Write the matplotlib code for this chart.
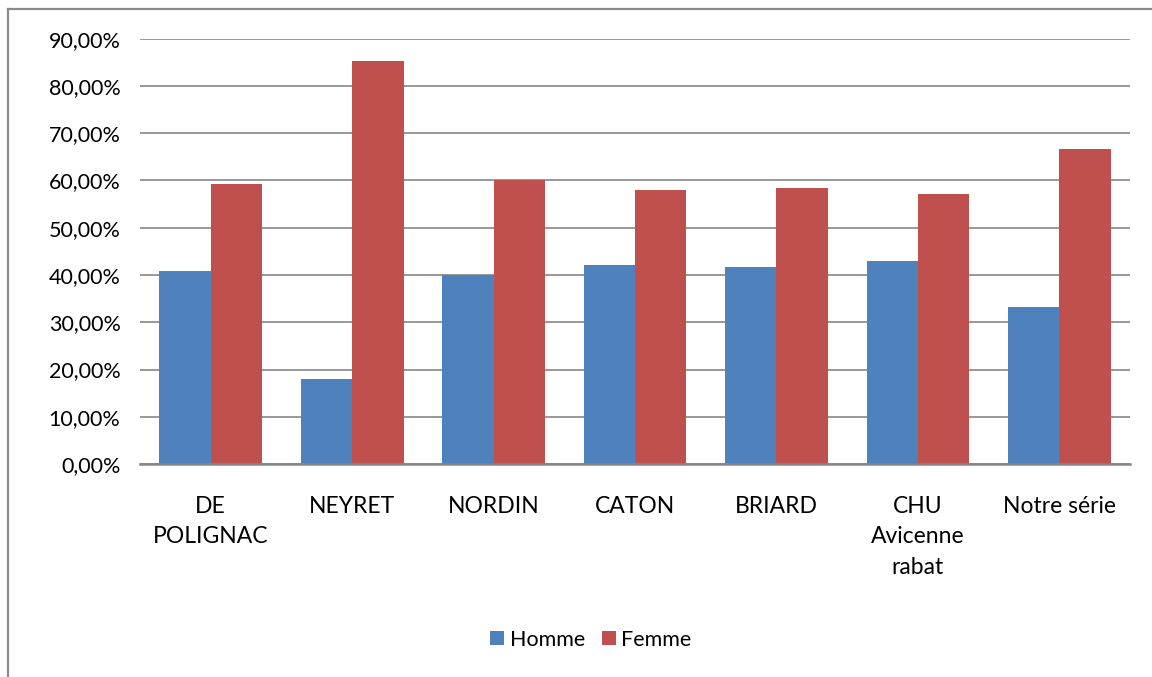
import matplotlib
matplotlib.use("Agg")
import matplotlib.pyplot as plt
from matplotlib.lines import Line2D
import numpy as np

plt.rcParams['font.family'] = ['Lato', 'DejaVu Sans']

# Data
categories = ["DE\nPOLIGNAC", "NEYRET", "NORDIN", "CATON", "BRIARD",
              "CHU\nAvicenne\nrabat", "Notre série"]
homme = [0.408, 0.1805, 0.400, 0.422, 0.416, 0.4295, 0.3333]
femme = [0.592, 0.852, 0.600, 0.579, 0.584, 0.571, 0.6667]
series_names = ["Homme", "Femme"]
yticks = np.arange(0, 0.91, 0.1)

blue = "#4F81BD"
red = "#C0504D"
grid_col = "#868686"

fig = plt.figure(figsize=(11.52, 6.77), dpi=100)
ax = fig.add_axes([0.1215, 0.3146, 0.981 - 0.1215, 0.9428 - 0.3146])

x = np.arange(len(categories))
w = 1 / 2.75  # gap width 75%
ax.bar(x - w / 2, homme, w, color=blue, label=series_names[0], zorder=3)
ax.bar(x + w / 2, femme, w, color=red, label=series_names[1], zorder=3)

ax.set_xlim(-0.5, len(categories) - 0.5)
ax.set_ylim(0, 0.9)
ax.set_yticks(yticks)
ax.set_yticklabels([f"{v * 100:.2f}%".replace(".", ",") for v in yticks])
ax.yaxis.grid(True, color=grid_col, linewidth=1.2, zorder=0)
ax.set_xticks(x)
ax.set_xticklabels(categories, linespacing=1.55, va="top")
ax.tick_params(axis="both", length=0, colors="black")
ax.tick_params(axis="y", labelsize=15.5, pad=14)
ax.tick_params(axis="x", labelsize=16.5, pad=23)

for side in ["top", "right", "left"]:
    ax.spines[side].set_visible(False)
ax.spines["bottom"].set_color(grid_col)
ax.spines["bottom"].set_linewidth(1.8)
ax.spines["bottom"].set_zorder(4)

# Outer chart frame (left and top edges)
fx = 8 / 1152
fy = 1 - 9 / 677
fig.add_artist(Line2D([fx, fx], [0, fy], transform=fig.transFigure,
                      color="#8a8a8a", linewidth=1.6))
fig.add_artist(Line2D([fx, 1], [fy, fy], transform=fig.transFigure,
                      color="#8a8a8a", linewidth=1.6))

fig.legend(loc="center", bbox_to_anchor=(0.513, 0.055), ncol=2, frameon=False,
           fontsize=15.5, handlelength=0.65, handleheight=0.65,
           handletextpad=0.25, columnspacing=0.8)

fig.savefig("out.png", dpi=100)
